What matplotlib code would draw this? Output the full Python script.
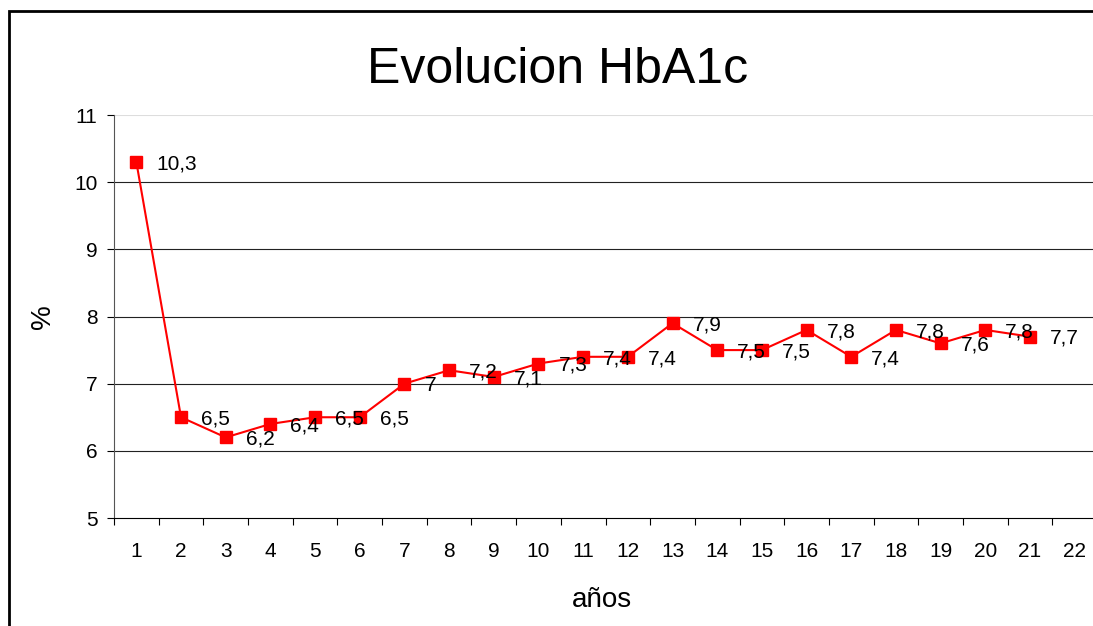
import matplotlib.pyplot as plt
from matplotlib.patches import Rectangle

plt.rcParams['font.family'] = ['Liberation Sans', 'DejaVu Sans']

# data
years = list(range(1, 22))
hba1c = [10.3, 6.5, 6.2, 6.4, 6.5, 6.5, 7.0, 7.2, 7.1, 7.3, 7.4,
         7.4, 7.9, 7.5, 7.5, 7.8, 7.4, 7.8, 7.6, 7.8, 7.7]
categories = [str(i) for i in range(1, 23)]
yticks = [5, 6, 7, 8, 9, 10, 11]

W, H = 1093, 626
fig = plt.figure(figsize=(W / 100, H / 100), dpi=100)

# outer frame (cut off at right and bottom like the original)
fig.patches.append(Rectangle((8.7 / W, -0.1), 1.2, 1.1 - 11.5 / H,
                             transform=fig.transFigure, fill=False,
                             edgecolor='black', linewidth=2.0))

ax = fig.add_axes([114 / W, 1 - 518 / H, 983 / W, 403 / H])
ax.set_xlim(0.5, 22.5)
ax.set_ylim(5, 11)

for y in yticks[1:-1]:
    ax.axhline(y, color='#222222', linewidth=0.8, zorder=1)
ax.axhline(11, color='#dddddd', linewidth=0.8, zorder=1)

ax.plot(years, hba1c, color='#ff0000', linewidth=1.5, marker='s',
        markersize=8.4, zorder=3)

for x, v in zip(years, hba1c):
    txt = ('%g' % v).replace('.', ',')
    ax.annotate(txt, (x, v), xytext=(14.4, -5.2), textcoords='offset points',
                ha='left', va='baseline', fontsize=15, zorder=4)

# x axis: labels at category centres, ticks between categories
ax.set_xticks(range(1, 23))
ax.set_xticklabels(categories, fontsize=15)
ax.set_xticks([i + 0.5 for i in range(0, 23)], minor=True)
ax.tick_params(axis='x', which='major', length=0, pad=17)
ax.tick_params(axis='x', which='minor', length=5, width=0.8, direction='out')

ax.set_yticks(yticks)
ax.set_yticklabels([str(t) for t in yticks], fontsize=15)
ax.tick_params(axis='y', length=5, width=0.8, pad=7, direction='out')

for s in ['top', 'right']:
    ax.spines[s].set_visible(False)
ax.spines['left'].set_color('#555555')
ax.spines['left'].set_linewidth(0.8)
ax.spines['bottom'].set_linewidth(0.8)

fig.text(558 / W, 1 - 82.7 / H, 'Evolucion HbA1c', fontsize=36,
         ha='center', va='baseline')
fig.text(602 / W, 1 - 607 / H, 'años', fontsize=20, ha='center', va='baseline')
fig.text(43 / W, 1 - 317 / H, '%', fontsize=20, ha='center', va='center',
         rotation=90)

fig.savefig('out.png', dpi=100)
